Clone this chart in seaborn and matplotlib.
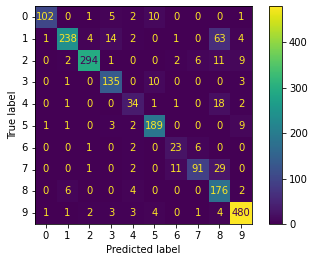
import matplotlib
matplotlib.use("Agg")
import matplotlib.pyplot as plt
import numpy as np
import pandas as pd
import seaborn as sns

labels = [str(i) for i in range(10)]

row0 = [102, 0, 1, 5, 2, 10, 0, 0, 0, 1]
row1 = [1, 238, 4, 14, 2, 0, 1, 0, 63, 4]
row2 = [0, 2, 294, 1, 0, 0, 2, 6, 11, 9]
row3 = [0, 1, 0, 135, 0, 10, 0, 0, 0, 3]
row4 = [0, 1, 0, 0, 34, 1, 1, 0, 18, 2]
row5 = [1, 1, 0, 3, 2, 189, 0, 0, 0, 9]
row6 = [0, 0, 1, 0, 2, 0, 23, 6, 0, 0]
row7 = [0, 0, 1, 0, 2, 0, 11, 91, 29, 0]
row8 = [0, 6, 0, 0, 4, 0, 0, 0, 176, 2]
row9 = [1, 1, 2, 3, 3, 4, 0, 1, 4, 480]

cm = np.array([row0, row1, row2, row3, row4, row5, row6, row7, row8, row9])
df = pd.DataFrame(cm, index=labels, columns=labels)

fig = plt.figure(figsize=(312 / 72, 262 / 72), dpi=72)
ax = fig.add_axes([35 / 312, 38 / 262, 217 / 312, 218 / 262])
cax = fig.add_axes([269 / 312, 38 / 262, 13 / 312, 218 / 262])

sns.heatmap(df, ax=ax, cbar_ax=cax, cmap="viridis", annot=True, fmt="d",
            vmin=0, vmax=cm.max(), annot_kws={"fontsize": 10})

# same text colours as sklearn's display: dark on bright cells
cmap = plt.get_cmap("viridis")
thresh = (cm.max() + cm.min()) / 2.0
for t in ax.texts:
    v = int(t.get_text())
    t.set_color(cmap(0.0) if v > thresh else cmap(1.0))

for s in ax.spines.values():
    s.set_visible(True)
    s.set_linewidth(0.8)
ax.tick_params(axis="both", length=3.5, width=0.8, labelsize=10)
ax.set_yticklabels(labels, rotation=0)
ax.set_xticklabels(labels, rotation=0)
ax.set_xlabel("Predicted label", fontsize=10)
ax.set_ylabel("True label", fontsize=10)

cb = ax.collections[0].colorbar
cb.outline.set_visible(True)
cb.outline.set_linewidth(0.8)
cb.set_ticks([0, 100, 200, 300, 400])
cax.tick_params(length=3.5, width=0.8, labelsize=10)

fig.savefig("out.png", dpi=72)
